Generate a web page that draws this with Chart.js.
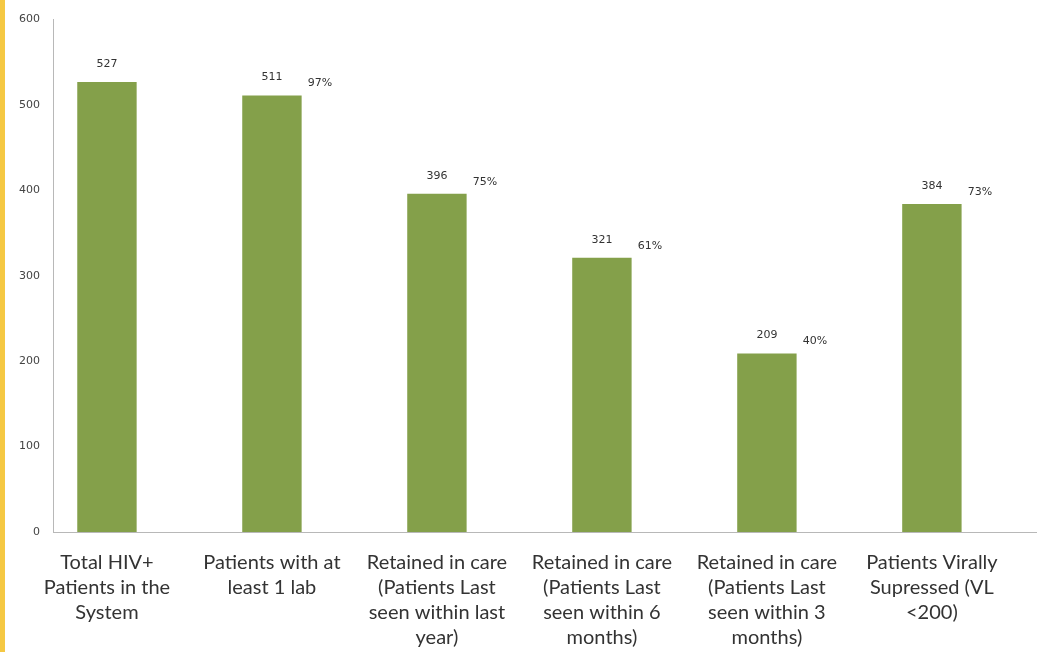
<!DOCTYPE html>
<html>
<head>
<meta charset="utf-8">
<script src="https://cdn.jsdelivr.net/npm/chart.js@4"></script>
<style>
  html, body { margin: 0; padding: 0; background: #fff; }
  #wrap { position: relative; width: 1040px; height: 652px; }
  #strip { position: absolute; left: 0; top: 0; width: 5px; height: 652px; background: #f5c843; }
</style>
</head>
<body>
<div id="wrap">
  <div id="strip"></div>
  <canvas id="myChart" width="1040" height="652"></canvas>
</div>
<script>
const categories = [
  ["Total HIV+", "Patients in the", "System"],
  ["Patients with at", "least 1 lab"],
  ["Retained in care", "(Patients Last", "seen within last", "year)"],
  ["Retained in care", "(Patients Last", "seen within 6", "months)"],
  ["Retained in care", "(Patients Last", "seen within 3", "months)"],
  ["Patients Virally", "Supressed (VL", "<200)"],
];
const patients = [527, 511, 396, 321, 209, 384];
const percents = ["", "97%", "75%", "61%", "40%", "73%"];
const yTicks = [0, 100, 200, 300, 400, 500, 600];

// value above each bar, percentage to its upper right
const barLabels = {
  id: "barLabels",
  afterDatasetsDraw(chart) {
    const ctx = chart.ctx;
    const meta = chart.getDatasetMeta(0);
    ctx.save();
    ctx.font = "11px 'DejaVu Sans'";
    ctx.fillStyle = "#333";
    ctx.textAlign = "center";
    ctx.textBaseline = "middle";
    meta.data.forEach((bar, i) => {
      ctx.fillText(String(patients[i]), bar.x, bar.y - 18);
      if (percents[i]) ctx.fillText(percents[i], bar.x + 48, bar.y - 12);
    });
    ctx.restore();
  },
};

const ctx = document.getElementById("myChart");

new Chart(ctx, {
  type: "bar",
  data: {
    datasets: [
      {
        data: patients.map((v, i) => ({ x: i, y: v })),
        backgroundColor: "#84a04a",
        borderWidth: 0,
        barPercentage: 0.36,
        categoryPercentage: 1,
      },
    ],
  },
  options: {
    responsive: false,
    animation: false,
    layout: { padding: { top: 15, right: 4, left: 0, bottom: 0 } },
    plugins: { legend: { display: false }, tooltip: { enabled: false } },
    scales: {
      x: {
        type: "linear",
        offset: false,
        min: -0.327,
        max: 5.631,
        grid: { display: false, drawTicks: false },
        border: { color: "#b8b8b8", width: 1 },
        afterBuildTicks: (s) => {
          s.ticks = categories.map((_, i) => ({ value: i }));
        },
        afterFit: (s) => {
          s.height = 120;
        },
        ticks: {
          autoSkip: false,
          maxRotation: 0,
          padding: 18,
          color: "#333",
          font: { family: "Lato", size: 20, lineHeight: 1.25 },
          callback: (v) => categories[v],
        },
      },
      y: {
        min: 0,
        max: 600,
        grid: { display: false, drawTicks: false },
        border: { color: "#b8b8b8", width: 1 },
        afterBuildTicks: (s) => {
          s.ticks = yTicks.map((v) => ({ value: v }));
        },
        afterFit: (s) => {
          s.width = 53;
        },
        ticks: {
          padding: 13,
          color: "#444",
          font: { family: "DejaVu Sans", size: 11 },
        },
      },
    },
  },
  plugins: [barLabels],
});
</script>
</body>
</html>
